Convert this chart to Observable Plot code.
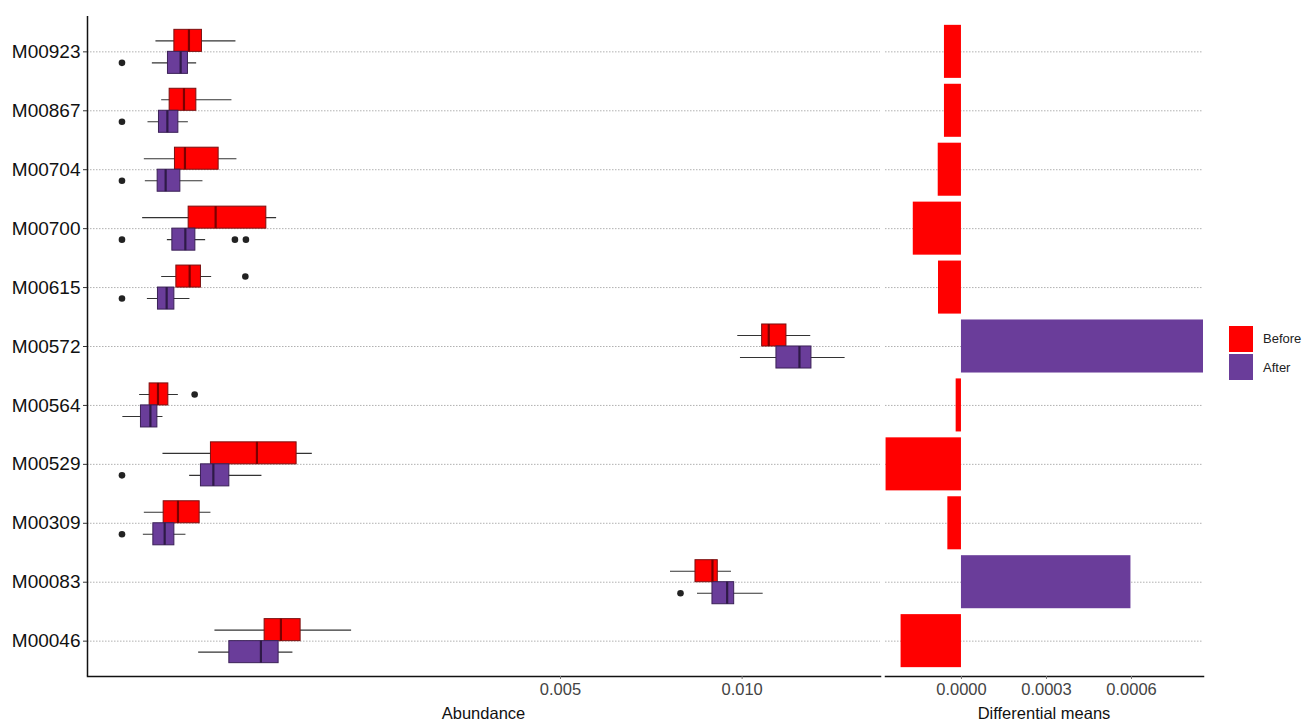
<!DOCTYPE html>
<html>
<head>
<meta charset="utf-8">
<script src="https://cdn.jsdelivr.net/npm/d3@7"></script>
<script src="https://cdn.jsdelivr.net/npm/@observablehq/plot@0.6"></script>
<style>
  body { margin: 0; background: #fff; }
  #wrap { position: relative; width: 1304px; height: 721px; font-family: "Liberation Sans", Arial, sans-serif; }
  #left { position: absolute; left: 0; top: 0; }
  #right { position: absolute; left: 880px; top: 0; }
  .title { position: absolute; top: 704px; font-size: 16.5px; color: #111; text-align: center; line-height: 18px; }
  .key { position: absolute; left: 1229px; width: 24px; height: 26px; }
  .klab { position: absolute; left: 1263px; font-size: 13px; color: #222; line-height: 14px; }
</style>
</head>
<body>
<div id="wrap">
  <div id="left"></div>
  <div id="right"></div>
  <div class="title" style="left:87px;width:793px;">Abundance</div>
  <div class="title" style="left:885px;width:318px;">Differential means</div>
  <div class="key" style="top:326px;background:#FF0000;"></div>
  <div class="key" style="top:354px;background:#6A3D9A;"></div>
  <div class="klab" style="top:332px;">Before</div>
  <div class="klab" style="top:361px;">After</div>
</div>
<script>
const categories = ["M00923","M00867","M00704","M00700","M00615","M00572","M00564","M00529","M00309","M00083","M00046"];
const groups = ["Before", "After"];

// Box statistics, Before
const beforeLo  = [3.0e-5, 4.1e-5, 1.3e-5, 1.11e-5, 4.1e-5, 9.86e-3, 8.1e-6, 4.37e-5, 1.3e-5, 7.823e-3, 2.247e-4];
const beforeQ1  = [7.14e-5, 5.91e-5, 7.3e-5, 1.156e-4, 7.69e-5, 1.0656e-2, 1.99e-5, 2.058e-4, 4.52e-5, 8.552e-3, 5.291e-4];
const beforeMed = [1.166e-4, 9.99e-5, 1.031e-4, 2.281e-4, 1.191e-4, 1.0877e-2, 3.37e-5, 4.735e-4, 8.15e-5, 9.066e-3, 6.569e-4];
const beforeQ3  = [1.663e-4, 1.438e-4, 2.43e-4, 5.418e-4, 1.622e-4, 1.148e-2, 5.59e-5, 7.93e-4, 1.569e-4, 9.23e-3, 8.298e-4];
const beforeHi  = [3.377e-4, 3.144e-4, 3.436e-4, 6.218e-4, 2.091e-4, 1.2335e-2, 8.27e-5, 9.42e-4, 2.058e-4, 9.659e-3, 1.371e-3];

// Box statistics, After
const afterLo  = [2.4e-5, 1.76e-5, 1.42e-5, 5.36e-5, 1.68e-5, 9.946e-3, 2e-8, 1.191e-4, 1.19e-5, 8.612e-3, 1.529e-4];
const afterQ1  = [5.5e-5, 3.56e-5, 3.31e-5, 6.6e-5, 3.37e-5, 1.1137e-2, 9.38e-6, 1.622e-4, 2.56e-5, 9.066e-3, 2.997e-4];
const afterMed = [8.95e-5, 5.36e-5, 4.96e-5, 1.044e-4, 5.19e-5, 1.1934e-2, 2.1e-5, 2.171e-4, 4.74e-5, 9.523e-3, 5.02e-4];
const afterQ3  = [1.132e-4, 8.265e-5, 8.86e-5, 1.4e-4, 7.135e-5, 1.236e-2, 3.26e-5, 2.997e-4, 7.135e-5, 9.745e-3, 6.38e-4];
const afterHi  = [1.45e-4, 1.146e-4, 1.705e-4, 1.82e-4, 1.201e-4, 1.3597e-2, 4.37e-5, 5.093e-4, 1.064e-4, 1.069e-2, 7.598e-4];

// Outliers
const outlierCat   = ["M00615","M00564","M00923","M00867","M00704","M00700","M00700","M00700","M00615","M00529","M00309","M00083"];
const outlierGroup = ["Before","Before","After","After","After","After","After","After","After","After","After","After"];
const outlierValue = [3.957e-4, 1.373e-4, 0, 0, 0, 0, 3.318e-4, 3.995e-4, 0, 0, 0, 8.111e-3];

// Differential means
const diffMeans = [-0.00006, -0.00006, -0.000082, -0.00017, -0.000081, 0.00086, -0.0000187, -0.000266, -0.000048, 0.000598, -0.000213];

const abundanceTicks = [0.005, 0.010];
const diffTicks = [0, 0.0003, 0.0006];

const RED = "#FF0000", PURPLE = "#6A3D9A";

const before = categories.map((c, i) => ({cat: c, lo: beforeLo[i], q1: beforeQ1[i], med: beforeMed[i], q3: beforeQ3[i], hi: beforeHi[i]}));
const after  = categories.map((c, i) => ({cat: c, lo: afterLo[i], q1: afterQ1[i], med: afterMed[i], q3: afterQ3[i], hi: afterHi[i]}));
const outliers = outlierCat.map((c, i) => ({cat: c, group: outlierGroup[i], value: outlierValue[i]}));
const diffs = categories.map((c, i) => ({cat: c, value: diffMeans[i], group: diffMeans[i] < 0 ? "Before" : "After"}));

const yScale = {type: "band", domain: categories, paddingInner: 0.1, paddingOuter: 0.15, round: false, axis: null};
const H = 721, MT = 16, MB = 45;
const gridStyle = {stroke: "#a8a8a8", strokeWidth: 0.9, strokeDasharray: "1.5,1.5"};

const left = Plot.plot({
  width: 882, height: H,
  marginLeft: 87, marginRight: 2, marginTop: MT, marginBottom: MB,
  style: {fontFamily: "'Liberation Sans', Arial, sans-serif", background: "white", overflow: "visible"},
  x: {type: "sqrt", domain: [-3.09e-5, 0.01496], axis: null},
  y: yScale,
  color: {domain: groups, range: [RED, PURPLE]},
  marks: [
    Plot.ruleY(categories, {y: d => d, ...gridStyle}),
    // whiskers
    Plot.ruleY(before, {y: "cat", x1: "lo", x2: "hi", dy: -11, stroke: "#333", strokeWidth: 1.1}),
    Plot.ruleY(after, {y: "cat", x1: "lo", x2: "hi", dy: 11, stroke: "#333", strokeWidth: 1.1}),
    // boxes
    Plot.barX(before, {y: "cat", x1: "q1", x2: "q3", fill: RED, stroke: "#7a1010", strokeWidth: 1, insetTop: 4.5, insetBottom: 26.5}),
    Plot.barX(after, {y: "cat", x1: "q1", x2: "q3", fill: PURPLE, stroke: "#3b2157", strokeWidth: 1, insetTop: 26.5, insetBottom: 4.5}),
    // medians
    Plot.tickX(before, {y: "cat", x: "med", stroke: "#7a0000", strokeWidth: 2.2, insetTop: 4.5, insetBottom: 26.5}),
    Plot.tickX(after, {y: "cat", x: "med", stroke: "#2e1a47", strokeWidth: 2.2, insetTop: 26.5, insetBottom: 4.5}),
    // outliers
    Plot.dot(outliers.filter(d => d.group === "Before"), {y: "cat", x: "value", dy: -11, r: 3.3, fill: "#222", stroke: "none"}),
    Plot.dot(outliers.filter(d => d.group === "After"), {y: "cat", x: "value", dy: 11, r: 3.3, fill: "#222", stroke: "none"}),
    // axes
    Plot.ruleX([-3.09e-5], {stroke: "#111", strokeWidth: 1.5}),
    Plot.frame({anchor: "bottom", stroke: "#111", strokeWidth: 1.5}),
    Plot.axisY({tickSize: 4, tickPadding: 3, fontSize: 19, fill: "#111", stroke: "#333", label: null}),
    Plot.axisX({ticks: abundanceTicks, tickFormat: d3.format(".3f"), tickSize: 3, tickPadding: 4, fontSize: 16.5, fill: "#444", stroke: "#777", label: null})
  ]
});
document.getElementById("left").appendChild(left);

const right = Plot.plot({
  width: 330, height: H,
  marginLeft: 5, marginRight: 7, marginTop: MT, marginBottom: MB,
  style: {fontFamily: "'Liberation Sans', Arial, sans-serif", background: "transparent", overflow: "visible"},
  x: {domain: [-0.000268, 0.000854], axis: null},
  y: yScale,
  color: {domain: groups, range: [RED, PURPLE]},
  marks: [
    Plot.ruleY(categories, {y: d => d, ...gridStyle}),
    Plot.barX(diffs, {y: "cat", x: "value", fill: "group", clip: true}),
    Plot.frame({anchor: "bottom", stroke: "#111", strokeWidth: 1.5}),
    Plot.axisX({ticks: diffTicks, tickFormat: d3.format(".4f"), tickSize: 3, tickPadding: 4, fontSize: 16.5, fill: "#444", stroke: "#777", label: null})
  ]
});
document.getElementById("right").appendChild(right);
</script>
</body>
</html>
